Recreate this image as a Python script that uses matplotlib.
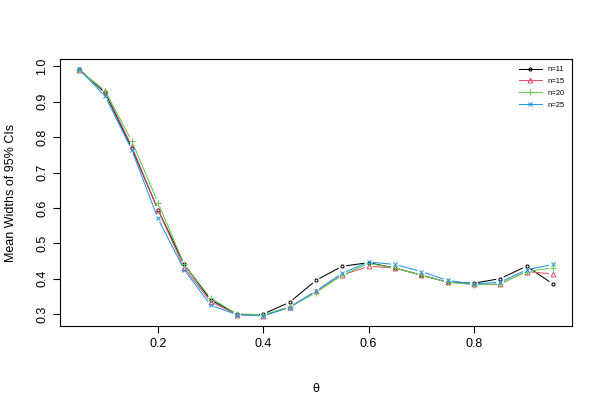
import numpy as np
import matplotlib
matplotlib.use("Agg")
import matplotlib.pyplot as plt

plt.rcParams['font.family'] = ['Liberation Sans', 'DejaVu Sans']

theta = [0.05, 0.10, 0.15, 0.20, 0.25, 0.30, 0.35, 0.40, 0.45, 0.50,
         0.55, 0.60, 0.65, 0.70, 0.75, 0.80, 0.85, 0.90, 0.95]
w11 = [0.992, 0.925, 0.770, 0.595, 0.440, 0.340, 0.300, 0.300, 0.333, 0.395,
       0.435, 0.445, 0.430, 0.410, 0.390, 0.387, 0.400, 0.435, 0.385]
w15 = [0.990, 0.930, 0.775, 0.595, 0.430, 0.335, 0.298, 0.295, 0.320, 0.364,
       0.410, 0.435, 0.430, 0.410, 0.390, 0.385, 0.385, 0.420, 0.413]
w20 = [0.990, 0.930, 0.790, 0.615, 0.440, 0.345, 0.300, 0.298, 0.320, 0.360,
       0.410, 0.443, 0.430, 0.410, 0.390, 0.383, 0.385, 0.420, 0.430]
w25 = [0.993, 0.915, 0.765, 0.570, 0.425, 0.325, 0.298, 0.295, 0.318, 0.365,
       0.415, 0.447, 0.440, 0.420, 0.395, 0.385, 0.390, 0.425, 0.440]

labels = ["n=11", "n=15", "n=20", "n=25"]
colors = ["black", "#DF536B", "#61D04F", "#2297E6"]
markers = ["o", "^", "+", "x"]
msizes = [2.2, 3.5, 4.5, 3.5]

fig = plt.figure(figsize=(6, 4), dpi=100)
ax = fig.add_axes([0.1, 0.185, 0.853, 0.6675])
ax.set_xlim(0.014, 0.986)
ax.set_ylim(0.266, 1.021)
fig.canvas.draw()

gap = 4.5  # pixels, like R type="b"
for ys, c, mk, ms, lab in zip([w11, w15, w20, w25], colors, markers, msizes, labels):
    pts = ax.transData.transform(np.column_stack([theta, ys]))
    for i in range(len(pts) - 1):
        p0, p1 = pts[i], pts[i + 1]
        d = p1 - p0
        L = np.hypot(*d)
        if L <= 2 * gap:
            continue
        u = d / L
        seg = ax.transData.inverted().transform(np.array([p0 + u * gap, p1 - u * gap]))
        ax.plot(seg[:, 0], seg[:, 1], color=c, lw=0.75)
    if mk in ("o", "^"):
        ax.plot(theta, ys, ls="none", marker=mk, ms=ms, mfc="none", mec=c, mew=0.75)
    else:
        ax.plot(theta, ys, ls="none", marker=mk, ms=ms, color=c, mew=0.75)
    ax.plot([], [], color=c, marker=mk, ms=ms, mfc="none" if mk in ("o", "^") else c,
            mec=c, lw=0.75, mew=0.75, label=lab)

ax.set_xticks([0.2, 0.4, 0.6, 0.8])
ax.set_yticks([0.3, 0.4, 0.5, 0.6, 0.7, 0.8, 0.9, 1.0])
ax.set_xticklabels(["0.2", "0.4", "0.6", "0.8"])
ax.set_yticklabels(["0.3", "0.4", "0.5", "0.6", "0.7", "0.8", "0.9", "1.0"],
                   rotation=90, va="center")
ax.tick_params(labelsize=9, length=5, width=0.8)
for s in ax.spines.values():
    s.set_linewidth(0.8)
ax.set_xlabel("θ", fontsize=9, labelpad=24)
ax.set_ylabel("Mean Widths of 95% CIs", fontsize=9, labelpad=14)

ax.legend(loc="upper right", frameon=False, fontsize=5.5, handlelength=3,
          labelspacing=0.6, borderaxespad=0.5, handletextpad=0.8)

fig.savefig("out.png", dpi=100)
